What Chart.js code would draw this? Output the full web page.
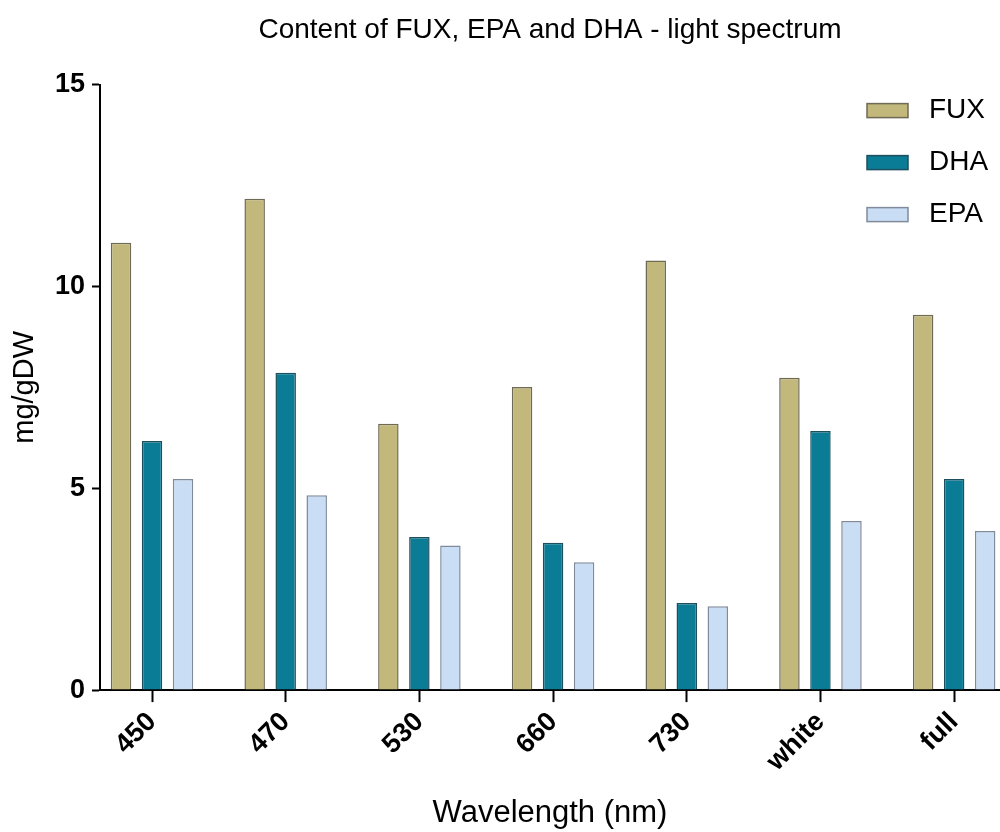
<!DOCTYPE html>
<html>
<head>
<meta charset="utf-8">
<script src="https://cdn.jsdelivr.net/npm/chart.js@4.4.1/dist/chart.umd.min.js"></script>
<style>
  html, body { margin: 0; padding: 0; background: #fff; overflow: hidden; }
  #wrap { width: 1000px; height: 832px; }
</style>
</head>
<body>
<div id="wrap"><canvas id="chart" width="1000" height="832"></canvas></div>
<script>
// values (mg/gDW)
const categories = ['450', '470', '530', '660', '730', 'white', 'full'];
const fuxValues = [11.08, 12.17, 6.60, 7.51, 10.64, 7.74, 9.30];
const dhaValues = [6.17, 7.86, 3.79, 3.65, 2.16, 6.42, 5.23];
const epaValues = [5.23, 4.83, 3.58, 3.17, 2.08, 4.19, 3.94];
const yMax = 15;
const yStep = 5;

const fontFamily = "'Liberation Sans', Arial, sans-serif";

function toPoints(values) {
	return values.map((v, i) => ({ x: i, y: v }));
}

// the legend sits inside the plot, upper right corner
const cornerLegend = {
	id: 'cornerLegend',
	afterDraw(chart) {
		const ctx = chart.ctx;
		const left = chart.chartArea.right - 133;
		ctx.save();
		ctx.font = `28px ${fontFamily}`;
		ctx.textBaseline = 'middle';
		ctx.textAlign = 'left';
		chart.data.datasets.forEach((ds, i) => {
			let y = chart.chartArea.top + 26 + i * 52;
			ctx.fillStyle = ds.backgroundColor;
			ctx.fillRect(left, y - 7, 41, 14);
			ctx.strokeStyle = ds.borderColor;
			ctx.lineWidth = 1.5;
			ctx.strokeRect(left, y - 7, 41, 14);
			ctx.fillStyle = '#000';
			ctx.fillText(ds.label, left + 62, y);
		});
		ctx.restore();
	}
};

const ctx = document.getElementById('chart').getContext('2d');
const chart = new Chart(ctx, {
	type: 'bar',
	data: {
		datasets: [{
			label: 'FUX',
			data: toPoints(fuxValues),
			backgroundColor: '#C2B87B',
			borderColor: '#6E6A55',
			borderWidth: 1.5
		}, {
			label: 'DHA',
			data: toPoints(dhaValues),
			backgroundColor: '#0A7C96',
			borderColor: '#1E4F5E',
			borderWidth: 1.5
		}, {
			label: 'EPA',
			data: toPoints(epaValues),
			backgroundColor: '#C9DDF5',
			borderColor: '#7F8A9A',
			borderWidth: 1.5
		}]
	},
	options: {
		responsive: false,
		animation: false,
		layout: { autoPadding: false, padding: 0 },
		datasets: {
			bar: { categoryPercentage: 0.696, barPercentage: 0.66 }
		},
		plugins: {
			legend: { display: false },
			tooltip: { enabled: false },
			title: {
				display: true,
				fullSize: false,
				text: 'Content of FUX, EPA and DHA - light spectrum',
				color: '#000',
				font: { family: fontFamily, size: 28, weight: 'normal' },
				padding: { top: 13, bottom: 38 }
			}
		},
		scales: {
			x: {
				type: 'linear',
				min: -0.389,
				max: 6.343,
				offset: false,
				grid: {
					drawOnChartArea: false,
					drawTicks: true,
					tickLength: 12,
					tickWidth: 2,
					tickColor: '#000',
					offset: false
				},
				border: { display: true, color: '#000', width: 2 },
				ticks: {
					stepSize: 1,
					includeBounds: false,
					autoSkip: false,
					minRotation: 45,
					maxRotation: 45,
					padding: 4,
					color: '#000',
					font: { family: fontFamily, size: 27, weight: 'bold' },
					callback: (v) => categories[v]
				},
				title: {
					display: true,
					text: 'Wavelength (nm)',
					color: '#000',
					font: { family: fontFamily, size: 31 },
					padding: { top: 13, bottom: 0 }
				}
			},
			y: {
				min: 0,
				max: yMax,
				grid: {
					drawOnChartArea: false,
					drawTicks: true,
					tickLength: 8,
					tickWidth: 2,
					tickColor: '#000'
				},
				border: { display: true, color: '#000', width: 2 },
				ticks: {
					stepSize: yStep,
					padding: 7,
					color: '#000',
					font: { family: fontFamily, size: 27, weight: 'bold' }
				},
				title: {
					display: true,
					text: 'mg/gDW',
					color: '#000',
					font: { family: fontFamily, size: 29 },
					padding: { top: 8, bottom: 0 }
				},
				afterFit: (scale) => { scale.width = 100; }
			}
		}
	},
	plugins: [cornerLegend]
});
</script>
</body>
</html>
